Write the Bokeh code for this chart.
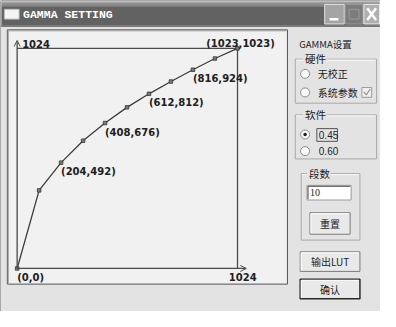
from bokeh.plotting import figure
from bokeh.models import Range1d, ColumnDataSource, Arrow, OpenHead
from bokeh.core.properties import value
from bokeh.embed import file_html
from bokeh.resources import INLINE

# ---------------- data ----------------
x_in = [0, 102, 204, 306, 408, 510, 612, 714, 816, 918, 1023]
y_out = [0, 363, 492, 594, 676, 749, 812, 869, 924, 976, 1023]
labeled = [0, 2, 4, 6, 8]          # points with a label below them
axis_max = 1024
window_title = "GAMMA SETTING"
panel_title = "GAMMA设置"
hw_group = "硬件"
hw_options = ["无校正", "系统参数"]
sw_group = "软件"
sw_options = ["0.45", "0.60"]
seg_group = "段数"
seg_value = "10"
btn_reset = "重置"
btn_lut = "输出LUT"
btn_ok = "确认"

# ---------------- layout ----------------
W, H = 380, 311
RX0, RX1 = 6, 394     # reference-pixel frame
RY0, RY1 = 8, 326
OX, OY = 23, 282       # chart origin (ref px)
SX = (248 - 23) / 1023
SY = (282 - 57) / 1023

p = figure(width=W, height=H, x_range=Range1d(RX0, RX1), y_range=Range1d(RY1, RY0),
           output_backend="svg", toolbar_location=None, min_border=0,
           x_axis_type=None, y_axis_type=None)
p.outline_line_color = None
p.background_fill_color = "white"
p.border_fill_color = "white"
p.extra_x_ranges = {"g": Range1d((RX0 - OX) / SX, (RX1 - OX) / SX)}
p.extra_y_ranges = {"g": Range1d((OY - RY1) / SY, (OY - RY0) / SY)}

CLIENT = "#e3e3e3"
CJK = value("Noto Sans CJK SC")


def box(l, r, t, b, fill, line=None, lw=1, alpha=1.0):
    p.quad(left=l, right=r, top=t, bottom=b, fill_color=fill, line_color=line,
           line_width=lw, fill_alpha=alpha)


def seg(x0, y0, x1, y1, color, lw=1, dash="solid"):
    p.line([x0, x1], [y0, y1], line_color=color, line_width=lw, line_dash=dash)


def txt(x, y, s, size="10px", color="#1e1e1e", align="left", font=CJK, bold=False):
    p.text(x=[x], y=[y], text=[s], text_font=font, text_font_size=value(size),
           text_color=color, text_align=align, text_baseline="middle",
           text_font_style="bold" if bold else "normal")


# window
box(6, 394, 8, 326, CLIENT, "#5a5a5a")
# title bar gradient
tb = ["#9a9a9a", "#848484", "#747474", "#6a6a6a", "#666666"]
for i, c in enumerate(tb):
    box(7, 393, 9 + i, 10 + i, c)
box(7, 393, 14, 35, "#626262")
box(7, 393, 33, 35, "#7a7a7a")
# icon
box(10, 25, 17, 27, "#f4f4f4", "#bdbdbd")
txt(29, 22, window_title, size="11.5px", color="white",
    font=value("Liberation Mono"), bold=True)
# caption buttons
box(337, 357, 12, 32, "#a4a4a4", "#e2e2e2")
box(342, 351, 26, 28.5, "white")
box(358, 376, 12, 32, "#7c7c7c", "#9c9c9c")
box(362, 372, 17, 27, None, "#9c9c9c")
box(377, 393, 12, 32, "#b0b0b0", "#ececec")
seg(380.5, 16, 389.5, 28, "white", 2.5)
seg(389.5, 16, 380.5, 28, "white", 2.5)

# plot panel
box(13, 299, 38, 298, "#f1f1f1", "#555555")
seg(14, 39, 298, 39, "#a0a0a0")
seg(14, 39, 14, 297, "#a0a0a0")

# ---------------- chart (data ranges) ----------------
G = dict(x_range_name="g", y_range_name="g")
AX = "#4a4a4a"
p.line([0, axis_max - 1, axis_max - 1], [axis_max - 1, axis_max - 1, 0], line_color=AX,
       line_width=1.3, **G)
p.add_layout(Arrow(end=OpenHead(size=6, line_color=AX, line_width=1), x_start=0, y_start=0,
                   x_end=0, y_end=axis_max + 36, line_color=AX, line_width=1.3, **G))
p.add_layout(Arrow(end=OpenHead(size=6, line_color=AX, line_width=1), x_start=0, y_start=0,
                   x_end=axis_max + 40, y_end=0, line_color=AX, line_width=1.3, **G))

src = ColumnDataSource(dict(x=x_in, y=y_out))
p.line("x", "y", source=src, line_color="#3c3c3c", line_width=1.3, **G)
p.scatter("x", "y", source=src, marker="square", size=3.5, fill_color="#7a7a7a",
          line_color="#333333", line_width=0.8, **G)

LF = value("DejaVu Sans")
lab = ColumnDataSource(dict(x=[x_in[i] for i in labeled], y=[y_out[i] for i in labeled],
                            t=[f"({x_in[i]},{y_out[i]})" for i in labeled]))
p.text("x", "y", text="t", source=lab, text_font=LF, text_font_size=value("10px"),
       text_font_style="bold", text_color="#202020", text_align="left",
       text_baseline="middle", y_offset=9, **G)
end = ColumnDataSource(dict(x=[x_in[-1]], y=[y_out[-1]], t=[f"({x_in[-1]},{y_out[-1]})"]))
p.text("x", "y", text="t", source=end, text_font=LF, text_font_size=value("10px"),
       text_font_style="bold", text_color="#202020", text_align="center",
       text_baseline="middle", x_offset=3, y_offset=-5, **G)
ticks = ColumnDataSource(dict(x=[0], y=[axis_max], t=[str(axis_max)]))
p.text("x", "y", text="t", source=ticks, text_font=LF, text_font_size=value("10px"),
       text_font_style="bold", text_color="#202020", text_align="left",
       text_baseline="middle", x_offset=5, y_offset=-4, **G)
ticks2 = ColumnDataSource(dict(x=[axis_max], y=[0], t=[str(axis_max)]))
p.text("x", "y", text="t", source=ticks2, text_font=LF, text_font_size=value("10px"),
       text_font_style="bold", text_color="#202020", text_align="center",
       text_baseline="middle", x_offset=5, y_offset=8.5, **G)

# ---------------- right-hand controls ----------------
txt(311, 52.5, panel_title, size="9.5px")


def group(l, r, t, b, title, tx):
    box(l, r, t, b, None, "#a8a8a8")
    seg(l + 1, t + 1, r - 1, t + 1, "#fafafa")
    box(tx - 2, tx + 2 + 10 * len(title), t - 4, t + 4, CLIENT)
    txt(tx, t - 0.5, title, size="10.5px")


def radio(cx, cy, checked=False):
    p.scatter([cx], [cy], marker="circle", size=9, fill_color="#fbfbfb",
              line_color="#8c8c8c", line_width=1)
    if checked:
        p.scatter([cx], [cy], marker="circle", size=3.5, fill_color="#202020",
                  line_color=None)


def button(l, r, t, b, s, default=False):
    box(l, r, t, b, "#e9e9e9", "#2a2a2a" if default else "#7a7a7a",
        lw=1.5 if default else 1)
    seg(l + 1, t + 1, r - 1, t + 1, "white")
    seg(l + 1, t + 1, l + 1, b - 1, "white")
    txt((l + r) / 2, (t + b) / 2, s, size="10px", align="center")


group(307, 390, 68, 113, hw_group, 317)
radio(317, 83)
txt(330, 83, hw_options[0])
radio(317, 102)
txt(330, 102, hw_options[1])
box(375, 385, 97, 107, "#f0f0f0", "#9a9a9a")
p.line([377, 379.5, 383.5], [101.5, 104.5, 98.5], line_color="#9a9a9a", line_width=1.3)

group(307, 390, 125, 170, sw_group, 317)
radio(317, 145, checked=True)
box(329, 350, 139, 152, None, "#555555")
txt(331, 145.5, sw_options[0], size="10px", font=value("Liberation Sans"))
radio(317, 162)
txt(331, 162, sw_options[1], size="10px", font=value("Liberation Sans"))

group(313, 373, 185, 253, seg_group, 321)
box(319, 364, 197, 212, "white", "#9a9a9a")
seg(320, 198, 363, 198, "#505050")
seg(320, 198, 320, 211, "#505050")
txt(322, 204.5, seg_value, size="10px", font=value("Liberation Serif"))
button(322, 363, 225, 247, btn_reset)
button(312, 373, 265, 285, btn_lut)
button(312, 373, 293, 313, btn_ok, default=True)

open("out.html", "w").write(file_html(p, INLINE))
